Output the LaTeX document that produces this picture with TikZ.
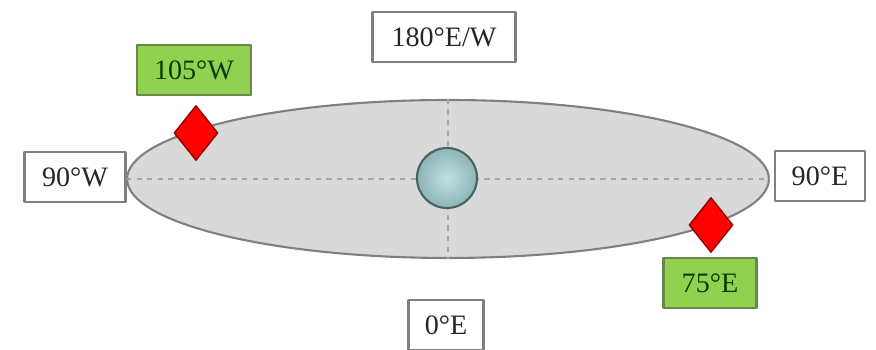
\documentclass[tikz,border=0pt]{standalone}
\usepackage{fontspec}
\setmainfont{Liberation Serif}
\usetikzlibrary{shapes.geometric}
\definecolor{orbitgray}{RGB}{217,217,217}
\definecolor{edgegray}{RGB}{128,128,128}
\definecolor{longgreen}{RGB}{146,208,80}
\definecolor{greenedge}{RGB}{105,135,75}
\definecolor{earthblue}{RGB}{165,212,214}
\definecolor{earthedge}{RGB}{70,100,102}
\definecolor{satred}{RGB}{255,0,0}
\definecolor{satedge}{RGB}{150,0,0}

\begin{document}
\begin{tikzpicture}[x=0.02cm, y=0.02cm, line join=round,
	font=\fontsize{16}{19}\selectfont,
	lonbox/.style={draw=edgegray, line width=1.3pt, fill=white, text=black!85,
		minimum height=1cm, inner sep=2pt},
	satlabel/.style={lonbox, draw=greenedge, fill=longgreen, text=black!75!green},
	satmark/.style={diamond, draw=satedge, line width=0.8pt, fill=satred,
		minimum width=0.88cm, minimum height=1.1cm, inner sep=0pt}]
	\useasboundingbox (0,0) rectangle (876,350);
	
	% ORBIT
	\node[ellipse, draw=edgegray, line width=1.2pt, fill=orbitgray,
		minimum width=12.84cm, minimum height=3.16cm] (orbit) at (448,171) {};
	\draw[dashed, edgegray!70, line width=0.8pt] (orbit.west) -- (orbit.east);
	\draw[dashed, edgegray!70, line width=0.8pt] (orbit.north) -- (orbit.south);
	
	% EARTH
	\node[circle, draw=earthedge, line width=1.2pt, inner color=earthblue!70!white,
		outer color=earthblue!85!black, minimum size=1.2cm] (earth) at (447,172) {};
	
	% LONGITUDES
	\node[lonbox, minimum width=2.86cm] (lonN) at (444,313) {180°E/W};
	\node[lonbox, minimum width=2.02cm] (lonW) at (75,173) {90°W};
	\node[lonbox, minimum width=1.8cm] (lonE) at (820,174) {90°E};
	\node[lonbox, minimum width=1.5cm] (lonS) at (446,25) {0°E};
	
	% SATELLITES
	\node[satmark] (satW) at (196,217) {};
	\node[satmark] (satE) at (711,125) {};
	\node[satlabel, minimum width=2.28cm] (labW) at (194,280) {105°W};
	\node[satlabel, minimum width=1.86cm] (labE) at (710,67) {75°E};
\end{tikzpicture}
\end{document}
